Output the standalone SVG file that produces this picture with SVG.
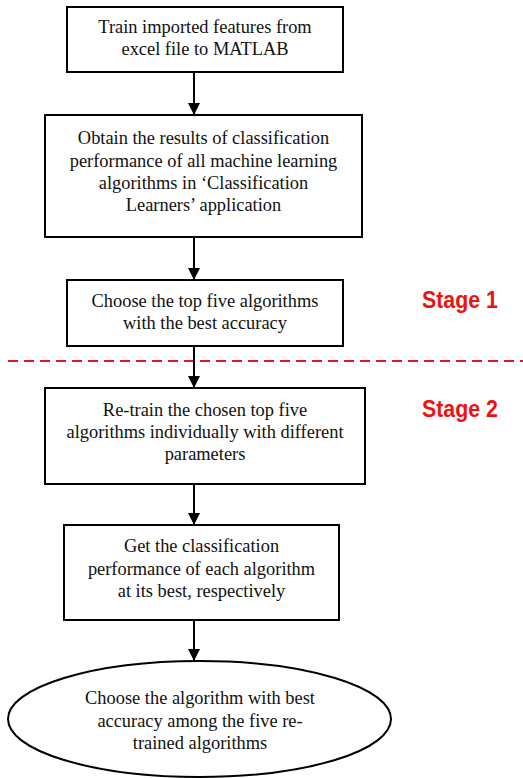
<svg xmlns="http://www.w3.org/2000/svg" width="523" height="778" viewBox="0 0 523 778">
  <style>
    .box { fill: #ffffff; stroke: #000000; stroke-width: 2; }
    .lbl { font-family: "Liberation Serif", "Times New Roman", serif; font-size: 18.4px; fill: #111111; text-anchor: middle; }
    .stage { font-family: "Liberation Sans", Arial, sans-serif; font-weight: bold; font-size: 23px; fill: #ee1111; }
    .edge { stroke: #000000; stroke-width: 2; fill: none; marker-end: url(#arrow); }
  </style>
  <defs>
    <marker id="arrow" viewBox="0 0 12 12" refX="12" refY="6" markerWidth="12" markerHeight="12" markerUnits="userSpaceOnUse" orient="auto">
      <path d="M0,0 L12,6 L0,12 Z" fill="#000000"/>
    </marker>
  </defs>
  <rect width="523" height="778" fill="#ffffff"/>

  <!-- stage separator -->
  <line x1="8" y1="361" x2="523" y2="361" stroke="#ee1111" stroke-width="2" stroke-dasharray="10 6"/>

  <g id="connectors">
    <line class="edge" x1="194" y1="73" x2="194" y2="115"/>
    <line class="edge" x1="194" y1="238" x2="194" y2="280"/>
    <line class="edge" x1="194" y1="347" x2="194" y2="388"/>
    <line class="edge" x1="194" y1="485" x2="194" y2="525"/>
    <line class="edge" x1="194" y1="621" x2="194" y2="661"/>
  </g>

  <g id="train">
    <rect class="box" x="67" y="7" width="276" height="65"/>
    <text class="lbl" x="205" y="33">Train imported features from</text>
    <text class="lbl" x="205" y="55">excel file to MATLAB</text>
  </g>

  <g id="obtain">
    <rect class="box" x="45" y="115" width="317" height="122"/>
    <text class="lbl" x="203.5" y="144">Obtain the results of classification</text>
    <text class="lbl" x="203.5" y="167">performance of all machine learning</text>
    <text class="lbl" x="203.5" y="189">algorithms in ‘Classification</text>
    <text class="lbl" x="203.5" y="211">Learners’ application</text>
  </g>

  <g id="choose-top">
    <rect class="box" x="67" y="280" width="276" height="66"/>
    <text class="lbl" x="205" y="307">Choose the top five algorithms</text>
    <text class="lbl" x="205" y="329">with the best accuracy</text>
  </g>

  <g id="retrain">
    <rect class="box" x="45" y="388" width="320" height="96"/>
    <text class="lbl" x="205" y="416">Re-train the chosen top five</text>
    <text class="lbl" x="205" y="438">algorithms individually with different</text>
    <text class="lbl" x="205" y="460">parameters</text>
  </g>

  <g id="performance">
    <rect class="box" x="64" y="525" width="275" height="95"/>
    <text class="lbl" x="201.5" y="552">Get the classification</text>
    <text class="lbl" x="201.5" y="575">performance of each algorithm</text>
    <text class="lbl" x="201.5" y="597">at its best, respectively</text>
  </g>

  <g id="choose-best">
    <ellipse class="box" cx="199.5" cy="719" rx="191.5" ry="58"/>
    <text class="lbl" x="200" y="704">Choose the algorithm with best</text>
    <text class="lbl" x="200" y="727">accuracy among the five re-</text>
    <text class="lbl" x="200" y="749">trained algorithms</text>
  </g>

  <g id="stage-1">
    <text class="stage" x="422" y="308" textLength="76" lengthAdjust="spacingAndGlyphs">Stage 1</text>
  </g>
  <g id="stage-2">
    <text class="stage" x="422" y="417" textLength="76" lengthAdjust="spacingAndGlyphs">Stage 2</text>
  </g>
</svg>
